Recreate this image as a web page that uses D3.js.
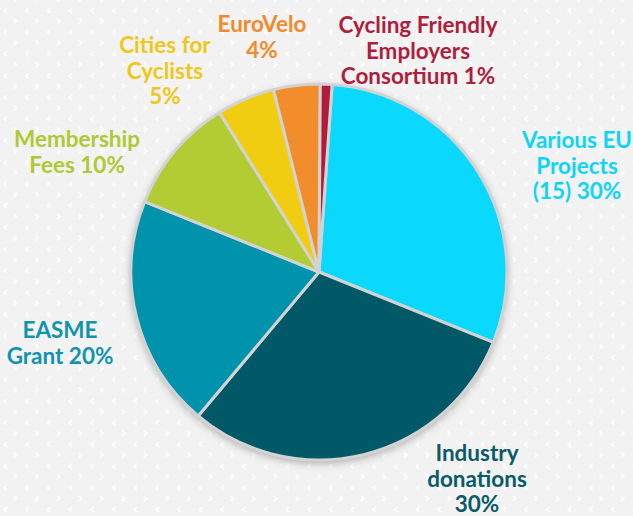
<!DOCTYPE html>
<html>
<head>
<meta charset="utf-8">
<script src="https://cdn.jsdelivr.net/npm/d3@7/dist/d3.min.js"></script>
<style>
  html, body { margin: 0; padding: 0; background: #f2f2f2; }
  svg { display: block; }
</style>
</head>
<body>
<svg id="chart" width="633" height="516"></svg>
<script>
// ---- data ----
const categories = ["Various EU Projects (15)", "Industry donations", "EASME Grant", "Membership Fees", "Cities for Cyclists", "EuroVelo", "Cycling Friendly Employers Consortium"];
const values = [30, 30, 20, 10, 5, 4, 1];
const labelLines = [
  ["Various EU", "Projects", "(15) 30%"],
  ["Industry", "donations", "30%"],
  ["EASME", "Grant 20%"],
  ["Membership", "Fees 10%"],
  ["Cities for", "Cyclists", "5%"],
  ["EuroVelo", "4%"],
  ["Cycling Friendly", "Employers", "Consortium 1%"]
];
const sliceColors = ["#0ad9fd", "#015866", "#0192ac", "#b3cc33", "#f0cd10", "#f18d2b", "#b11c3b"];
const labelColors = ["#10d4f6", "#0b5a67", "#1193ab", "#afc935", "#eec71a", "#ef8b2c", "#ad1f3d"];

// ---- layout ----
const W = 633, H = 516;
const cx = 319, cy = 272, R = 188;
const startDeg = 4;
// label anchor (center x, first baseline y)
const labelAnchors = [[577, 148], [477, 461], [60, 338], [77, 147], [165, 53], [262, 32], [418, 33]];
const lineH = 25.5;

const svg = d3.select("#chart");
const defs = svg.append("defs");

// background chevron pattern
const pat = defs.append("pattern").attr("id", "bgpat").attr("patternUnits", "userSpaceOnUse")
  .attr("width", 21.7).attr("height", 21.7);
pat.append("rect").attr("width", 21.7).attr("height", 21.7).attr("fill", "#f2f2f2");
pat.append("path").attr("d", "M7,8 L4,10.5 L7,13").attr("fill", "none").attr("stroke", "#ffffff").attr("stroke-width", 1.6).attr("opacity", 0.9);
pat.append("path").attr("d", "M13.5,18.5 L16.5,21 L13.5,23.5").attr("fill", "none").attr("stroke", "#ffffff").attr("stroke-width", 1.6).attr("opacity", 0.9);
pat.append("path").attr("d", "M13.5,-3.2 L16.5,-0.7 L13.5,1.8").attr("fill", "none").attr("stroke", "#ffffff").attr("stroke-width", 1.6).attr("opacity", 0.9);

svg.append("rect").attr("width", W).attr("height", H).attr("fill", "url(#bgpat)");

const filt = defs.append("filter").attr("id", "shadow").attr("x", "-20%").attr("y", "-20%").attr("width", "140%").attr("height", "140%");
filt.append("feDropShadow").attr("dx", 0).attr("dy", 3).attr("stdDeviation", 4)
  .attr("flood-color", "#000").attr("flood-opacity", 0.3);

const pie = d3.pie().sort(null).value(d => d)
  .startAngle(startDeg * Math.PI / 180)
  .endAngle((startDeg + 360) * Math.PI / 180);
const arc = d3.arc().innerRadius(0).outerRadius(R);

const g = svg.append("g").attr("transform", `translate(${cx},${cy})`);
const arcs = pie(values);

// shadow base
g.append("circle").attr("r", R).attr("fill", "#d0d0d0").attr("filter", "url(#shadow)");

g.selectAll("path.slice").data(arcs).enter().append("path")
  .attr("class", "slice")
  .attr("d", arc)
  .attr("fill", (d, i) => sliceColors[i])
  .attr("stroke", "#d3d3d3")
  .attr("stroke-width", 3)
  .attr("stroke-linejoin", "round");

// labels
const lab = svg.append("g").attr("font-family", "'Century Gothic', 'Lato', 'DejaVu Sans', sans-serif")
  .attr("font-weight", "bold").attr("font-size", 22.5).attr("text-anchor", "middle");
labelLines.forEach((lines, i) => {
  const t = lab.append("text").attr("fill", labelColors[i])
    .attr("x", labelAnchors[i][0]).attr("y", labelAnchors[i][1]);
  lines.forEach((ln, j) => {
    t.append("tspan").attr("x", labelAnchors[i][0]).attr("dy", j === 0 ? 0 : lineH).text(ln);
  });
});
</script>
</body>
</html>
